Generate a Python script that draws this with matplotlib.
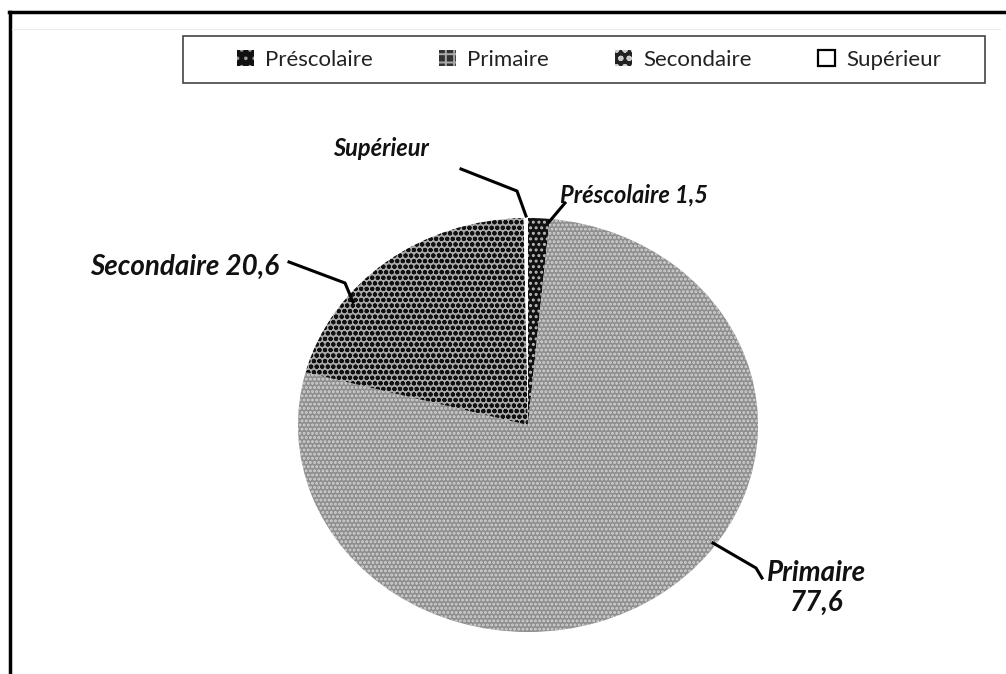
import matplotlib.pyplot as plt
from matplotlib.patches import Patch, Rectangle
from matplotlib.lines import Line2D

W, H = 1006, 674

categories = ['Préscolaire', 'Primaire', 'Secondaire', 'Supérieur']
values = [1.5, 77.6, 20.6, 0.3]
slice_labels = ['Préscolaire 1,5', 'Primaire\n77,6', 'Secondaire 20,6', 'Supérieur']

faces = ['#111111', '#8e8e8e', '#a9a9a9', 'white']
hatch_cols = ['#bbbbbb', '#d4d4d4', '#111111', 'white']
hatches = ['...', '....', 'ooo', None]

plt.rcParams['font.family'] = ['Lato', 'DejaVu Sans']
plt.rcParams['hatch.linewidth'] = 1.4


def px(x, y):
    # pixel position from top-left -> figure fraction
    return x / W, 1 - y / H


fig = plt.figure(figsize=(W / 100, H / 100), dpi=100)

# outer frame (only left and top visible in the crop)
fig.add_artist(Line2D([px(10, 0)[0], px(10, 0)[0]], [px(0, 12)[1], 0],
                      transform=fig.transFigure, color='black', lw=2.5))
fig.add_artist(Line2D([px(9, 0)[0], 1], [px(0, 12)[1], px(0, 12)[1]],
                      transform=fig.transFigure, color='black', lw=2.5))
fig.add_artist(Line2D([px(12, 0)[0], px(1000, 0)[0]], [px(0, 29)[1], px(0, 29)[1]],
                      transform=fig.transFigure, color='#ececec', lw=0.8))

# pie, slightly flattened like the original
ax = fig.add_axes([298 / W, (H - 632) / H, 460 / W, 414 / H])
wedges, _ = ax.pie(values, startangle=90, counterclock=False, radius=1,
                   wedgeprops=dict(linewidth=0))
for w, fc, hc, ht in zip(wedges, faces, hatch_cols, hatches):
    w.set_facecolor(fc)
    w.set_edgecolor(hc)
    w.set_linewidth(0)
    if ht:
        w.set_hatch(ht)
ax.set_xlim(-1.0, 1.0)
ax.set_ylim(-1.0, 1.0)
ax.set_aspect('auto')
ax.axis('off')

# data labels with leader lines
label_style = dict(fontstyle='italic', fontweight='bold', color='#111111')
label_pos = {
    'Préscolaire': ((560, 195), 'left', 17),
    'Primaire': ((817, 588), 'center', 20),
    'Secondaire': ((90, 267), 'left', 20),
    'Supérieur': ((333, 148), 'left', 17),
}
leaders = {
    'Préscolaire': [(565, 203), (549, 222)],
    'Primaire': [(713, 543), (756, 568), (762, 578)],
    'Secondaire': [(289, 262), (345, 283), (353, 302)],
    'Supérieur': [(461, 169), (517, 191), (526, 216)],
}
for cat, lab in zip(categories, slice_labels):
    (x, y), ha, fs = label_pos[cat]
    fx, fy = px(x, y)
    fig.text(fx, fy, lab, ha=ha, va='center', fontsize=fs,
             linespacing=1.15, **label_style)
    pts = [px(a, b) for a, b in leaders[cat]]
    fig.add_artist(Line2D([p[0] for p in pts], [p[1] for p in pts],
                          transform=fig.transFigure, color='black', lw=2.2))

# legend with its own box
bx0, by0 = px(183, 83)
bx1, by1 = px(985, 36)
fig.add_artist(Rectangle((bx0, by0), bx1 - bx0, by1 - by0, transform=fig.transFigure,
                         facecolor='white', edgecolor='#444444', lw=1.2))
leg_faces = ['#111111', '#333333', '#222222', 'white']
leg_hatch = ['..', '++', 'oo', None]
leg_hcol = ['#999999', '#aaaaaa', '#cccccc', 'black']
handles = [Patch(facecolor=fc, edgecolor=hc, hatch=ht,
                 linewidth=1.6 if fc == 'white' else 0)
           for fc, hc, ht in zip(leg_faces, leg_hcol, leg_hatch)]
fig.legend(handles, categories, loc='center', bbox_to_anchor=px(589, 60),
           ncol=4, frameon=False, fontsize=16, handlelength=0.75,
           handleheight=0.75, handletextpad=0.5, columnspacing=3.0,
           labelcolor='#222222')

fig.savefig('out.png', dpi=100)
